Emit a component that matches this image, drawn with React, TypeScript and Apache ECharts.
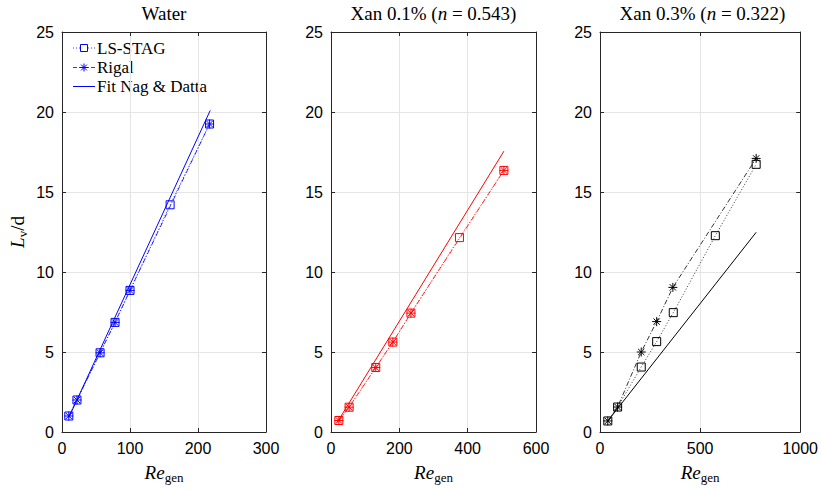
import React, { useEffect, useRef } from 'react';
import * as echarts from 'echarts';

// Panel 1: Water
const waterLsX = [10, 22, 56, 78, 100, 159, 217];
const waterLsY = [1.0, 2.0, 4.95, 6.85, 8.85, 14.2, 19.25];
const waterRgX = [10, 22, 56, 78, 100, 217];
const waterRgY = [1.0, 2.0, 4.95, 6.85, 8.85, 19.25];
const waterFitX = [10, 218];
const waterFitY = [0.9, 20.1];

// Panel 2: Xan 0.1%
const xan1LsX = [23, 53, 131, 181, 234, 376, 506];
const xan1LsY = [0.72, 1.55, 4.03, 5.62, 7.43, 12.15, 16.35];
const xan1RgX = [23, 53, 131, 181, 234, 506];
const xan1RgY = [0.72, 1.55, 4.03, 5.62, 7.43, 16.35];
const xan1FitX = [18, 506];
const xan1FitY = [0.6, 17.55];

// Panel 3: Xan 0.3%
const xan3LsX = [39, 88, 206, 283, 366, 576, 780];
const xan3LsY = [0.69, 1.56, 4.06, 5.65, 7.46, 12.27, 16.73];
const xan3RgX = [39, 88, 206, 283, 364, 780];
const xan3RgY = [0.69, 1.56, 5.0, 6.9, 9.04, 17.1];
const xan3FitX = [39, 780];
const xan3FitY = [0.69, 12.48];

const panelTitles = ['Water', 'Xan 0.1%', 'Xan 0.3%'];
const panelN = ['', '0.543', '0.322'];
const legendNames = ['LS-STAG', 'Rigal', 'Fit Nag & Datta'];
const xMax = [300, 600, 1000];
const xInterval = [100, 200, 500];
const yMax = 25;
const yInterval = 5;

const zip = (xs: number[], ys: number[]) => xs.map((x, i) => [x, ys[i]]);

const ASTERISK = 'path://M0 5L10 5M5 0L5 10M1.5 1.5L8.5 8.5M8.5 1.5L1.5 8.5';
const DOTTED = [1, 2];
const DASHDOT = [5, 2, 1, 2];

const GRIDS = [
  { left: 62, width: 204 },
  { left: 331, width: 205 },
  { left: 600, width: 205 },
];
const TOP = 32;
const HEIGHT = 400;

const TICK_FONT = 'Liberation Sans, Arial, sans-serif';
const SERIF = 'Liberation Serif, Times New Roman, DejaVu Serif, serif';

export default function App() {
  const ref = useRef<HTMLDivElement>(null);
  useEffect(() => {
    if (!ref.current) return;
    const chart = echarts.init(ref.current, undefined, { renderer: 'svg' });

    const panels = [
      { color: '#0000ff', ls: zip(waterLsX, waterLsY), rg: zip(waterRgX, waterRgY), fit: zip(waterFitX, waterFitY) },
      { color: '#ff0000', ls: zip(xan1LsX, xan1LsY), rg: zip(xan1RgX, xan1RgY), fit: zip(xan1FitX, xan1FitY) },
      { color: '#000000', ls: zip(xan3LsX, xan3LsY), rg: zip(xan3RgX, xan3RgY), fit: zip(xan3FitX, xan3FitY) },
    ];

    const nameRich = {
      i: { fontFamily: SERIF, fontSize: 19, fontStyle: 'italic', fontWeight: 'normal', color: '#000', lineHeight: 22, verticalAlign: 'middle' },
      r: { fontFamily: SERIF, fontSize: 19, fontWeight: 'normal', color: '#000', lineHeight: 22, verticalAlign: 'middle' },
      s: { fontFamily: SERIF, fontSize: 13, fontWeight: 'normal', color: '#000', lineHeight: 12, verticalAlign: 'bottom', padding: [0, 0, -1, 0] },
    };

    const grid: any[] = [];
    const xAxis: any[] = [];
    const yAxis: any[] = [];
    const series: any[] = [];
    const title: any[] = [];

    panels.forEach((p, i) => {
      grid.push({ left: GRIDS[i].left, width: GRIDS[i].width, top: TOP, height: HEIGHT, show: false });
      const common = {
        gridIndex: i,
        type: 'value',
        axisLine: { show: true, onZero: false, lineStyle: { color: '#262626', width: 1 } },
        axisTick: { show: true, inside: true, length: 4, lineStyle: { color: '#262626' } },
      };
      xAxis.push({
        ...common,
        position: 'bottom',
        min: 0,
        max: xMax[i],
        interval: xInterval[i],
        splitLine: { show: true, lineStyle: { color: '#e5e5e5', width: 1 } },
        axisLabel: { fontFamily: TICK_FONT, fontSize: 16, color: '#000', margin: 8, formatter: (v: number) => String(v) },
        name: '{i|Re}{s|gen}',
        nameLocation: 'middle',
        nameGap: 29,
        nameTextStyle: { fontFamily: SERIF, rich: nameRich },
      });
      xAxis.push({
        ...common,
        position: 'top',
        min: 0,
        max: xMax[i],
        interval: xInterval[i],
        splitLine: { show: false },
        axisLabel: { show: false },
      });
      yAxis.push({
        ...common,
        position: 'left',
        min: 0,
        max: yMax,
        interval: yInterval,
        splitLine: { show: true, lineStyle: { color: '#e5e5e5', width: 1 } },
        axisLabel: { fontFamily: TICK_FONT, fontSize: 16, color: '#000', margin: 8 },
        ...(i === 0
          ? {
              name: '{i|L}{s|v}{r|/d}',
              nameLocation: 'middle',
              nameGap: 34,
              nameRotate: 90,
              nameTextStyle: { fontFamily: SERIF, rich: nameRich },
            }
          : {}),
      });
      yAxis.push({
        ...common,
        position: 'right',
        min: 0,
        max: yMax,
        interval: yInterval,
        splitLine: { show: false },
        axisLabel: { show: false },
      });
      const xi = i * 2;
      const yi = i * 2;
      series.push({
        name: legendNames[2] + i,
        type: 'line',
        xAxisIndex: xi,
        yAxisIndex: yi,
        data: p.fit,
        symbol: 'none',
        lineStyle: { color: p.color, width: 1, type: 'solid' },
        itemStyle: { color: p.color },
        z: 2,
      });
      series.push({
        name: legendNames[0] + i,
        type: 'line',
        xAxisIndex: xi,
        yAxisIndex: yi,
        data: p.ls,
        symbol: 'rect',
        symbolSize: 8,
        lineStyle: { color: p.color, width: 0.8, type: DOTTED },
        itemStyle: { color: 'rgba(0,0,0,0)', borderColor: p.color, borderWidth: 1 },
        z: 3,
      });
      series.push({
        name: legendNames[1] + i,
        type: 'line',
        xAxisIndex: xi,
        yAxisIndex: yi,
        data: p.rg,
        symbol: ASTERISK,
        symbolSize: 9,
        lineStyle: { color: p.color, width: 0.8, type: DASHDOT },
        itemStyle: { color: 'rgba(0,0,0,0)', borderColor: p.color, borderWidth: 1 },
        z: 4,
      });

      const t = panelN[i]
        ? `{r|${panelTitles[i]} (}{i|n}{r| = ${panelN[i]})}`
        : `{r|${panelTitles[i]}}`;
      title.push({
        text: t,
        left: GRIDS[i].left + GRIDS[i].width / 2,
        top: 2,
        textAlign: 'center',
        padding: 0,
        textStyle: {
          fontFamily: SERIF,
          fontWeight: 'normal',
          rich: {
            r: { fontFamily: SERIF, fontSize: 19, fontWeight: 'normal', color: '#000', lineHeight: 22 },
            i: { fontFamily: SERIF, fontSize: 19, fontStyle: 'italic', fontWeight: 'normal', color: '#000', lineHeight: 22 },
          },
        },
      });
    });

    // Legend (drawn as graphic items for the first panel)
    const blue = '#0000ff';
    const lx0 = 73;
    const lx1 = 95;
    const lcx = 84;
    const rows = [48, 67.5, 86.5];
    const graphic: any[] = [];
    graphic.push({ type: 'line', shape: { x1: lx0, y1: rows[0], x2: lx1, y2: rows[0] }, style: { stroke: blue, lineWidth: 0.8, lineDash: DOTTED } });
    graphic.push({ type: 'rect', shape: { x: lcx - 3.5, y: rows[0] - 3.5, width: 7, height: 7 }, style: { fill: '#fff', stroke: blue, lineWidth: 1 } });
    graphic.push({ type: 'line', shape: { x1: lx0, y1: rows[1], x2: lx1, y2: rows[1] }, style: { stroke: blue, lineWidth: 0.8, lineDash: [4, 2] } });
    const a = 4;
    const d = 2.9;
    [
      [lcx - a, rows[1], lcx + a, rows[1]],
      [lcx, rows[1] - a, lcx, rows[1] + a],
      [lcx - d, rows[1] - d, lcx + d, rows[1] + d],
      [lcx + d, rows[1] - d, lcx - d, rows[1] + d],
    ].forEach(([x1, y1, x2, y2]) => {
      graphic.push({ type: 'line', shape: { x1, y1, x2, y2 }, style: { stroke: blue, lineWidth: 1 } });
    });
    graphic.push({ type: 'line', shape: { x1: lx0, y1: rows[2], x2: lx1, y2: rows[2] }, style: { stroke: blue, lineWidth: 1 } });
    legendNames.forEach((n, k) => {
      graphic.push({
        type: 'text',
        x: 97,
        y: rows[k],
        style: { text: n, font: `normal 17px ${SERIF}`, fontFamily: SERIF, fontSize: 17, fill: '#000', verticalAlign: 'middle', align: 'left' },
      });
    });

    chart.setOption({
      animation: false,
      backgroundColor: '#fff',
      title,
      grid,
      xAxis,
      yAxis,
      series,
      graphic,
    });
    return () => chart.dispose();
  }, []);
  return <div ref={ref} style={{ width: 821, height: 489, position: 'absolute', left: 0, top: 0 }} />;
}
